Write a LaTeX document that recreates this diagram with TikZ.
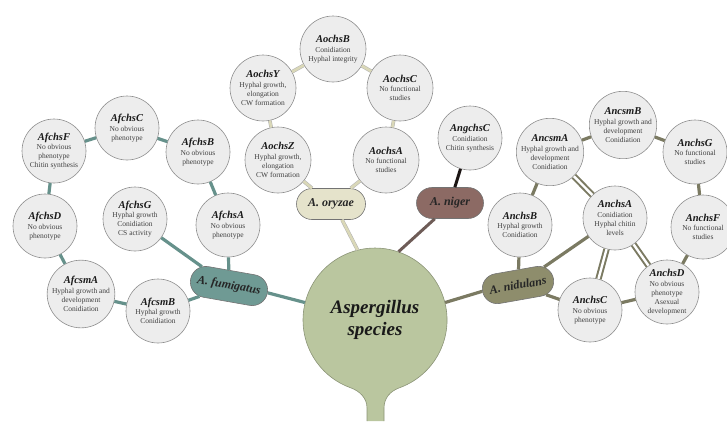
\documentclass[tikz,border=0pt]{standalone}
\usepackage{fontspec}
\setmainfont{Liberation Serif}
\usetikzlibrary{shapes.misc}

\definecolor{genefill}{HTML}{EDEDED}
\definecolor{geneline}{HTML}{8E8E8E}
\definecolor{fumcol}{HTML}{6F9A94}
\definecolor{fumline}{HTML}{66918B}
\definecolor{orycol}{HTML}{E5E3CB}
\definecolor{orylinecol}{HTML}{DAD8B8}
\definecolor{nigcol}{HTML}{8C6A64}
\definecolor{nigline}{HTML}{6E5C57}
\definecolor{nidcol}{HTML}{8E8D6C}
\definecolor{nidlinecol}{HTML}{7B7A62}
\definecolor{sppcol}{HTML}{BAC69F}

\newcommand{\gname}[1]{{\fontsize{10.5}{11}\selectfont\bfseries\itshape\color{black!90}#1}\\[0.5pt]}

\begin{document}
\begin{tikzpicture}[x=1pt,y=-1pt,
  gene/.style={circle,draw=geneline,fill=genefill,line width=0.6pt,minimum size=64pt,
    inner sep=0pt,align=center,text=black!75,font=\fontsize{7.5}{9}\selectfont},
  species/.style={rounded rectangle,draw=black!55,line width=0.6pt,minimum width=#1,
    minimum height=31pt,inner sep=0pt,text=black!85,font=\fontsize{12}{14}\selectfont\bfseries\itshape},
  fumedge/.style={draw=fumline,line width=3.2pt},
  oryedge/.style={draw=black!30,double=orylinecol,double distance=2.6pt,line width=0.5pt},
  nidedge/.style={draw=nidlinecol,line width=3.2pt},
  niddouble/.style={draw=nidlinecol,double=white,double distance=2.4pt,line width=2pt}]
 \useasboundingbox (0,0) rectangle (727,421);

 % centre with stem
 \filldraw[fill=sppcol,draw=sppcol!75!black,line width=0.6pt]
   (367,421) -- (367,408) .. controls (367,398) and (359.8,391.1) .. (350.4,387.7)
   arc[start angle=110,end angle=430,radius=72]
   .. controls (390.2,391.1) and (384,398) .. (384,408) -- (384,421);
 \node[circle,minimum size=144pt,inner sep=0pt,align=center,text=black!90,
   font=\fontsize{19}{22}\selectfont\bfseries\itshape] (spp) at (375,320) {Aspergillus\\species};

 % A. fumigatus
 \node[species=78pt,fill=fumcol,rotate=-10] (fum) at (229,286) {A. fumigatus};
 \node[gene] (afC) at (127,128) {\gname{AfchsC}No obvious\\phenotype};
 \node[gene] (afF) at (54,151) {\gname{AfchsF}No obvious\\phenotype\\Chitin synthesis};
 \node[gene] (afB) at (198,152) {\gname{AfchsB}No obvious\\phenotype};
 \node[gene] (afD) at (45,226) {\gname{AfchsD}No obvious\\phenotype};
 \node[gene] (afG) at (135,219) {\gname{AfchsG}Hyphal growth\\Conidiation\\CS activity};
 \node[gene] (afA) at (228,225) {\gname{AfchsA}No obvious\\phenotype};
 \node[gene] (afmA) at (81,294) {\gname{AfcsmA}Hyphal growth and\\development\\Conidiation};
 \node[gene] (afmB) at (158,311) {\gname{AfcsmB}Hyphal growth\\Conidiation};

 % A. oryzae
 \node[species=69pt,fill=orycol] (ory) at (331,204) {A. oryzae};
 \node[gene,minimum size=66pt] (aoB) at (333,49) {\gname{AochsB}Conidiation\\Hyphal integrity};
 \node[gene,minimum size=66pt] (aoY) at (263,88) {\gname{AochsY}Hyphal growth,\\elongation\\CW formation};
 \node[gene,minimum size=66pt] (aoC) at (400,88) {\gname{AochsC}No functional\\studies};
 \node[gene,minimum size=66pt] (aoZ) at (278,160) {\gname{AochsZ}Hyphal growth,\\elongation\\CW formation};
 \node[gene,minimum size=66pt] (aoA) at (386,160) {\gname{AochsA}No functional\\studies};

 % A. niger
 \node[species=67pt,fill=nigcol] (nig) at (450,203) {A. niger};
 \node[gene] (angC) at (470,138) {\gname{AngchsC}Conidiation\\Chitin synthesis};

 % A. nidulans
 \node[species=72pt,fill=nidcol,rotate=10,minimum height=30pt] (nid) at (518,285) {A. nidulans};
 \node[gene] (anmA) at (550,152) {\gname{AncsmA}Hyphal growth and\\development\\Conidiation};
 \node[gene] (anmB) at (623,125) {\gname{AncsmB}Hyphal growth and\\development\\Conidiation};
 \node[gene] (anG) at (695,152) {\gname{AnchsG}No functional\\studies};
 \node[gene] (anB) at (520,225) {\gname{AnchsB}Hyphal growth\\Conidiation};
 \node[gene] (anA) at (615,218) {\gname{AnchsA}Conidiation\\Hyphal chitin\\levels};
 \node[gene] (anF) at (703,227) {\gname{AnchsF}No functional\\studies};
 \node[gene] (anD) at (667,292) {\gname{AnchsD}No obvious\\phenotype\\Asexual\\development};
 \node[gene] (anC) at (590,310) {\gname{AnchsC}No obvious\\phenotype};

 % connectors
 \foreach \a/\b in {afC/afF, afC/afB, afF/afD, afD/afmA, afmA/afmB, afmB/fum, afB/afA, afA/fum, afG/fum}
   \draw[fumedge] (\a) -- (\b);
 \draw[fumedge] (fum.east) -- (spp.166);
 \foreach \a/\b in {aoZ/aoY, aoY/aoB, aoB/aoC, aoC/aoA, aoZ/ory, aoA/ory}
   \draw[oryedge] (\a) -- (\b);
 \draw[oryedge] (ory.305) -- (spp.104);
 \draw[draw=black!80!nigcol,line width=3pt] (angC) -- (nig);
 \draw[draw=nigline,line width=3pt] (nig.226) -- (spp.71);
 \foreach \a/\b in {anmA/anmB, anmB/anG, anG/anF, anF/anD, anD/anC, anC/nid, anB/nid, anmA/anB, anA/nid}
   \draw[nidedge] (\a) -- (\b);
 \draw[nidedge] (nid.west) -- (spp.14);
 \foreach \a/\b in {anmA/anA, anA/anC, anA/anD}
   \draw[niddouble] (\a) -- (\b);
\end{tikzpicture}
\end{document}
